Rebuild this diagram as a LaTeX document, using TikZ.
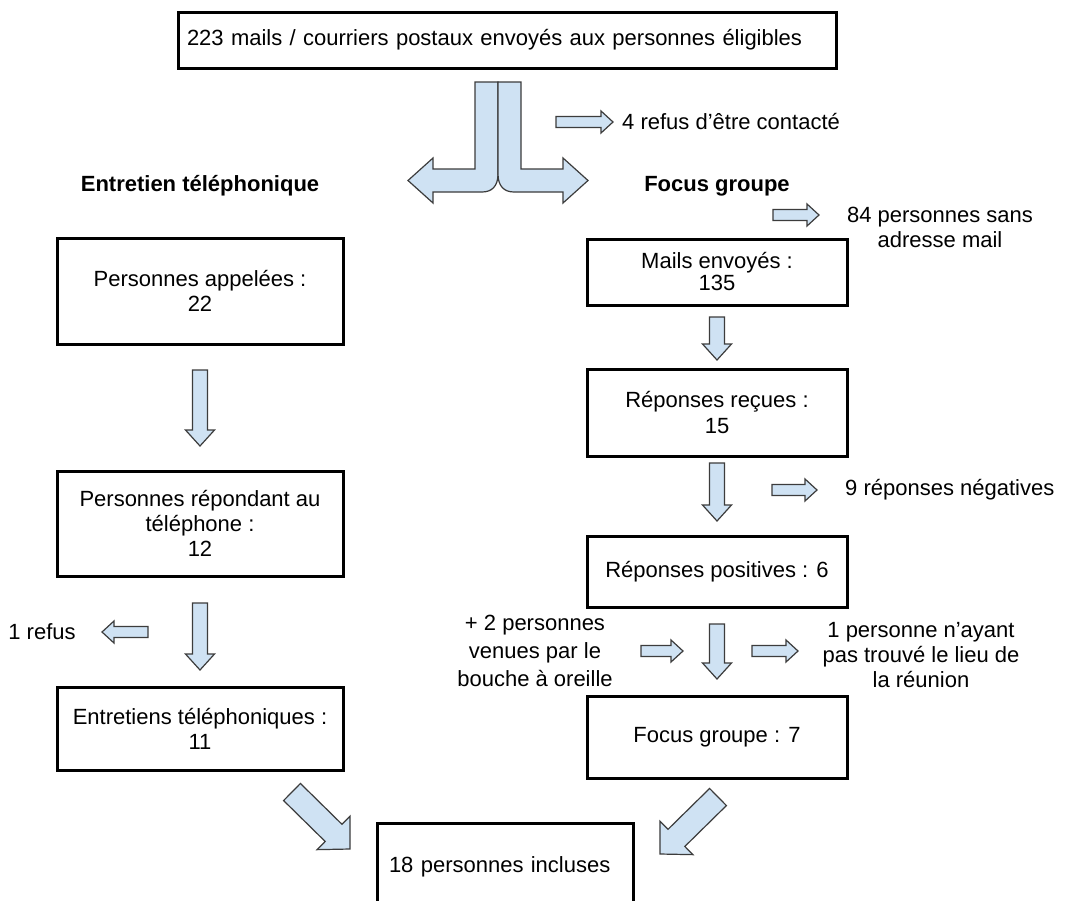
\documentclass[tikz,border=0pt]{standalone}
\usepackage{fontspec}
\setmainfont{Liberation Sans}
\usetikzlibrary{calc}
\definecolor{lblue}{HTML}{CFE2F3}
\definecolor{aline}{HTML}{3C3C3C}
\tikzset{
  box/.style={draw=black, line width=3pt, minimum width=286pt, inner sep=0pt, align=center, font=\fontsize{22}{25}\selectfont},
  rbox/.style={box, minimum width=260pt},
  lbl/.style={inner sep=0pt, align=center, font=\fontsize{22}{25}\selectfont},
  ttl/.style={inner sep=0pt, font=\fontsize{22}{25}\selectfont\bfseries},
  blk/.style={draw=aline, fill=lblue, line width=1.2pt, line join=miter},
}
\newcommand\blockarrow[5]{%
  \coordinate (bah) at ($(#2)!#5!(#1)$);
  \draw[blk] ($(#1)!#3!-90:(#2)$) -- ($(bah)!#3!-90:(#2)$) -- ($(bah)!#4!-90:(#2)$) -- (#2)
     -- ($(bah)!#4!90:(#2)$) -- ($(bah)!#3!90:(#2)$) -- ($(#1)!#3!90:(#2)$) -- cycle;}
\begin{document}
\begin{tikzpicture}[x=1pt,y=1pt]
\clip (0,0) rectangle (1065,-900);
\fill[white] (0,0) rectangle (1065,-900);

% boxes
\node[box, minimum width=658pt, minimum height=56pt, text width=640pt, align=left] (top) at (507,-40) {223 mails / courriers postaux envoyés aux personnes éligibles};
\node[box, minimum height=106pt] (L1) at (200,-291) {Personnes appelées :\\22};
\node[box, minimum height=105pt] (L2) at (200,-523.5) {Personnes répondant au\\téléphone :\\12};
\node[box, minimum height=83pt] (L3) at (200,-728.5) {Entretiens téléphoniques :\\11};
\node[rbox, minimum height=66pt, font=\fontsize{22}{22}\selectfont] (R1) at (717,-272) {Mails envoyés :\\135};
\node[rbox, minimum height=87pt, font=\fontsize{22}{26}\selectfont] (R2) at (717,-412.5) {Réponses reçues :\\15};
\node[rbox, minimum height=71pt] (R3) at (717,-571.5) {Réponses positives : 6};
\node[rbox, minimum height=82pt] (R4) at (717,-737) {Focus groupe : 7};
\node[box, minimum width=256pt, minimum height=88pt, text width=232pt, align=left] (B) at (505,-867) {18 personnes incluses};

% titles and labels
\node[ttl] (tl) at (200,-186) {Entretien téléphonique};
\node[ttl] (tr) at (717,-186) {Focus groupe};
\node[lbl, anchor=west] (refus4) at (622,-122) {4 refus d’être contacté};
\node[lbl] (sans) at (940,-227) {84 personnes sans\\adresse mail};
\node[lbl, anchor=west] (neg) at (845,-490) {9 réponses négatives};
\node[lbl, font=\fontsize{22}{28}\selectfont] (plus) at (535,-651) {+ 2 personnes\\venues par le\\bouche à oreille};
\node[lbl] (lieu) at (921,-655) {1 personne n’ayant\\pas trouvé le lieu de\\la réunion};
\node[lbl] (refus1) at (42,-632) {1 refus};

% split arrow
\draw[blk] (475,-82) -- (498,-82) -- (498,-174) .. controls (498,-186) and (492,-192) .. (482,-192)
  -- (433,-192) -- (433,-203) -- (408,-180.5) -- (433,-158) -- (433,-169) -- (475,-169) -- cycle;
\draw[blk] (521,-82) -- (498,-82) -- (498,-174) .. controls (498,-186) and (504,-192) .. (514,-192)
  -- (563,-192) -- (563,-203) -- (588,-180.5) -- (563,-158) -- (563,-169) -- (521,-169) -- cycle;

% block arrow end points
\coordinate (a4s) at (556,-122);   \coordinate (a4e) at (613,-122);
\coordinate (a84s) at (773,-215);  \coordinate (a84e) at (819,-215);
\coordinate (aL1s) at (200,-370);  \coordinate (aL1e) at (200,-446);
\coordinate (aL2s) at (200,-603);  \coordinate (aL2e) at (200,-670);
\coordinate (ar1s) at (148,-632);  \coordinate (ar1e) at (102,-632);
\coordinate (aR1s) at (717,-317);  \coordinate (aR1e) at (717,-360);
\coordinate (aR2s) at (717,-463);  \coordinate (aR2e) at (717,-521);
\coordinate (aR3s) at (717,-624);  \coordinate (aR3e) at (717,-679);
\coordinate (anegs) at (772,-490); \coordinate (anege) at (817,-490);
\coordinate (apls) at (641,-651);  \coordinate (aple) at (683,-651);
\coordinate (alis) at (752,-651);  \coordinate (alie) at (798,-651);
\coordinate (dLs) at (292,-792);   \coordinate (dLe) at (350,-849);
\coordinate (dRs) at (718,-797);   \coordinate (dRe) at (660,-854);

\blockarrow{a4s}{a4e}{5.5pt}{11pt}{12pt}
\blockarrow{a84s}{a84e}{5.5pt}{11pt}{12pt}
\blockarrow{anegs}{anege}{5.5pt}{11pt}{12pt}
\blockarrow{ar1s}{ar1e}{5.5pt}{11pt}{12pt}
\blockarrow{apls}{aple}{5.5pt}{11pt}{12pt}
\blockarrow{alis}{alie}{5.5pt}{11pt}{12pt}
\blockarrow{aL1s}{aL1e}{7.5pt}{14.5pt}{16pt}
\blockarrow{aL2s}{aL2e}{7.5pt}{14.5pt}{16pt}
\blockarrow{aR1s}{aR1e}{7.5pt}{14.5pt}{16pt}
\blockarrow{aR2s}{aR2e}{7.5pt}{14.5pt}{16pt}
\blockarrow{aR3s}{aR3e}{7.5pt}{14.5pt}{16pt}
\blockarrow{dLs}{dLe}{12pt}{23.5pt}{23pt}
\blockarrow{dRs}{dRe}{12pt}{23.5pt}{23pt}
\end{tikzpicture}
\end{document}
